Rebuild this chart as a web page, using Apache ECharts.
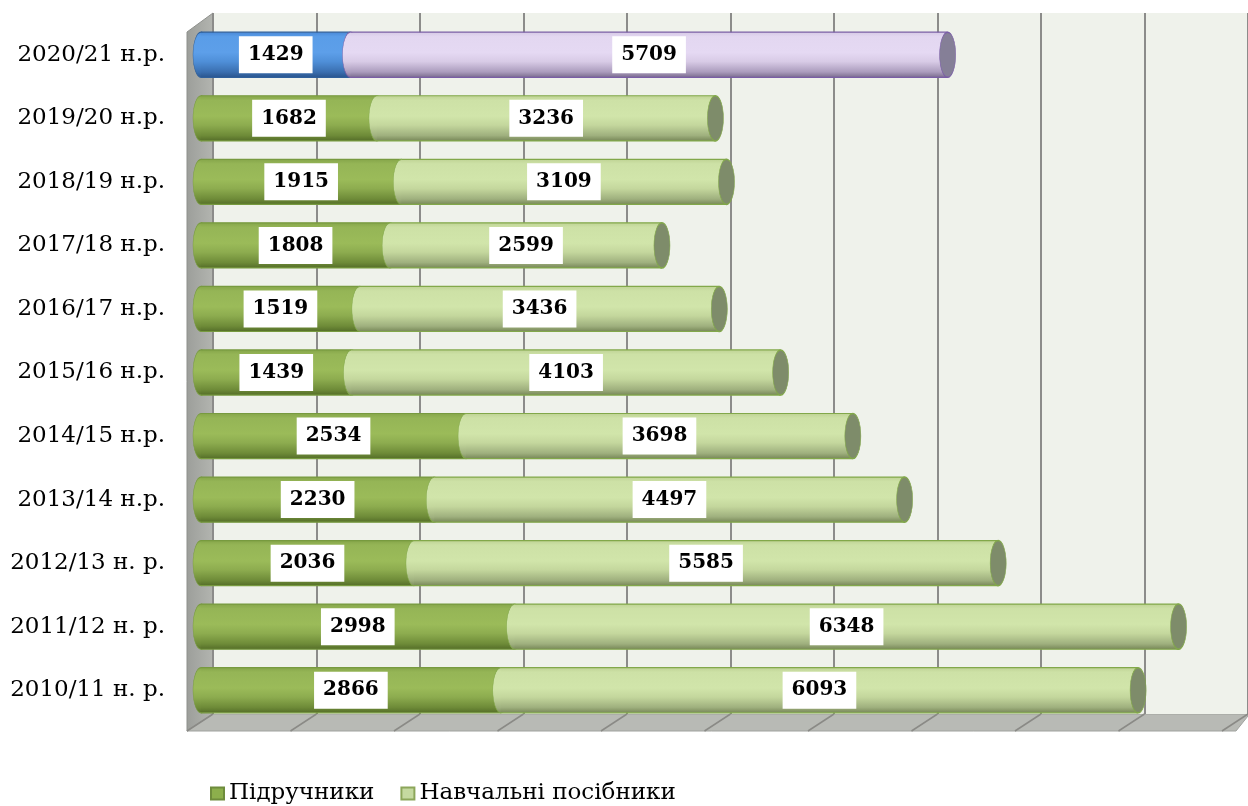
<!DOCTYPE html>
<html>
<head>
<meta charset="utf-8">
<script src="https://cdn.jsdelivr.net/npm/echarts@6/dist/echarts.min.js"></script>
<style>
html,body{margin:0;padding:0;background:#fff;}
#chartmain{width:1248px;height:806px;}
</style>
</head>
<body>
<div id="chartmain"></div>
<script>
// категорії (знизу вгору)
var categories = ['2010/11 н. р.', '2011/12 н. р.', '2012/13 н. р.', '2013/14 н.р.', '2014/15 н.р.',
	'2015/16 н.р.', '2016/17 н.р.', '2017/18 н.р.', '2018/19 н.р.', '2019/20 н.р.', '2020/21 н.р.'];
var textbooks = [2866, 2998, 2036, 2230, 2534, 1439, 1519, 1808, 1915, 1682, 1429];
var manuals = [6093, 6348, 5585, 4497, 3698, 4103, 3436, 2599, 3109, 3236, 5709];
var wallTicks = [0, 1000, 2000, 3000, 4000, 5000, 6000, 7000, 8000, 9000, 10000];
var seriesNames = ['Підручники', 'Навчальні посібники'];

// кольори циліндрів: [звичайний, виділений рік]
var palFirst = [
	{stops: ['#86a64a', '#95b556', '#9bbb59', '#8dac4f', '#6e8b38', '#556e29'], border: '#779a3f', cap: '#7f9a4c'},
	{stops: ['#4a8ad8', '#5a9de8', '#5d9fe9', '#4f8fd8', '#3a6fb0', '#2a558e'], border: '#2f5f9a', cap: '#3b6eae'}
];
var palSecond = [
	{stops: ['#bfd395', '#cde1a6', '#d1e5aa', '#c4d79d', '#9fb07e', '#788859'], border: '#82a84a', cap: '#7e8c6a'},
	{stops: ['#d6cae6', '#e3d7f1', '#e5d9f3', '#d8cbe6', '#ab9cbd', '#7c6e8f'], border: '#7a5ea6', cap: '#857f97'}
];

var firstData = [], secondData = [];
for (var i = 0; i < categories.length; i++) {
	firstData.push([0, textbooks[i], i, textbooks[i]]);
	secondData.push([textbooks[i], textbooks[i] + manuals[i], i, manuals[i]]);
}

function gradient(stops) {
	var pos = [0, 0.1, 0.45, 0.65, 0.88, 1];
	return new echarts.graphic.LinearGradient(0, 0, 0, 1, stops.map(function (c, k) {
		return {offset: pos[k], color: c};
	}));
}

function cylinder(pal, withCap) {
	return function (params, api) {
		var s = api.value(0), e = api.value(1), c = api.value(2);
		var p0 = api.coord([s, c]), p1 = api.coord([e, c]);
		var h = api.size([0, 1])[1] * 0.71;
		var rx = 8, top = p0[1] - h / 2;
		var col = pal[c === categories.length - 1 ? 1 : 0];
		var children = [
			{type: 'circle', x: p0[0], y: p0[1], scaleX: rx / (h / 2),
				shape: {cx: 0, cy: 0, r: h / 2},
				style: {fill: gradient(col.stops), stroke: col.border, lineWidth: 1.2, strokeNoScale: true}},
			{type: 'rect', shape: {x: p0[0], y: top, width: p1[0] - p0[0], height: h},
				style: {fill: gradient(col.stops)}},
			{type: 'line', shape: {x1: p0[0], y1: top, x2: p1[0], y2: top}, style: {stroke: col.border, lineWidth: 1.2}},
			{type: 'line', shape: {x1: p0[0], y1: top + h, x2: p1[0], y2: top + h}, style: {stroke: col.border, lineWidth: 1.2}}
		];
		if (withCap) {
			children.push({type: 'circle', x: p1[0], y: p1[1], scaleX: rx / (h / 2),
				shape: {cx: 0, cy: 0, r: h / 2},
				style: {fill: col.cap, stroke: col.border, lineWidth: 1.5, strokeNoScale: true}});
		}
		children.push({type: 'text', x: (p0[0] + p1[0]) / 2, y: p0[1], z2: 10,
			style: {text: String(api.value(3)), font: 'bold 20px "DejaVu Serif"', fill: '#000',
				backgroundColor: '#fff', padding: [9, 9, 8, 9], align: 'center', verticalAlign: 'middle'}});
		return {type: 'group', children: children};
	};
}

// нахилені лінії підлоги
function floorLine(params, api) {
	var p = api.coord([api.value(0), 0]);
	return {type: 'line', shape: {x1: p[0], y1: p[1], x2: p[0] - 26, y2: p[1] + 17},
		style: {stroke: '#8a8a86', lineWidth: 1.5}};
}

var myChart = echarts.init(document.getElementById('chartmain'));
myChart.setOption({
	animation: false,
	graphic: [
		// ліва стінка
		{type: 'polygon', z: -1, shape: {points: [[187, 32], [213, 13], [213, 714], [187, 731]]},
			style: {fill: new echarts.graphic.LinearGradient(0, 0, 1, 0, [{offset: 0, color: '#9c9e9a'}, {offset: 1, color: '#b3b5b0'}]),
				stroke: '#8e908c', lineWidth: 1}},
		// підлога
		{type: 'polygon', z: -1, shape: {points: [[187, 731], [213, 714], [1248, 714], [1248, 716], [1236, 731]]},
			style: {fill: '#b8bab5', stroke: '#a0a29e', lineWidth: 1}}
	],
	grid: [
		{left: 201, top: 23, width: 1046, height: 699},
		{left: 213, top: 13, width: 1046, height: 701, show: true, backgroundColor: '#eff2eb', borderWidth: 0}
	],
	legend: {
		data: seriesNames,
		left: 205, top: 777,
		icon: 'rect', itemWidth: 13, itemHeight: 12, itemGap: 26,
		textStyle: {fontFamily: 'DejaVu Serif', fontSize: 23, color: '#000'}
	},
	xAxis: [
		{gridIndex: 0, type: 'value', min: 0, max: 10000, show: false},
		{gridIndex: 1, type: 'value', min: 0, max: 10000, interval: 1000,
			axisLine: {show: false}, axisTick: {show: false}, axisLabel: {show: false},
			splitLine: {show: true, lineStyle: {color: '#8c8c8a', width: 2}}}
	],
	yAxis: [
		{gridIndex: 0, type: 'category', data: categories,
			axisLine: {show: false}, axisTick: {show: false},
			axisLabel: {margin: 36, fontFamily: 'DejaVu Serif', fontSize: 23, color: '#000'}},
		{gridIndex: 1, type: 'value', min: 0, max: 1, show: false}
	],
	series: [
		{name: 'floor', type: 'custom', xAxisIndex: 1, yAxisIndex: 1, silent: true, z: 1,
			data: wallTicks.map(function (v) { return [v]; }), renderItem: floorLine},
		{name: seriesNames[0], type: 'custom', xAxisIndex: 0, yAxisIndex: 0, z: 3,
			itemStyle: {color: '#8caf4c', borderColor: '#6e8c3c', borderWidth: 1},
			encode: {x: [0, 1], y: 2}, data: firstData, renderItem: cylinder(palFirst, false)},
		{name: seriesNames[1], type: 'custom', xAxisIndex: 0, yAxisIndex: 0, z: 4,
			itemStyle: {color: '#c5d9a0', borderColor: '#8ca65a', borderWidth: 1},
			encode: {x: [0, 1], y: 2}, data: secondData, renderItem: cylinder(palSecond, true)}
	]
});
</script>
</body>
</html>
